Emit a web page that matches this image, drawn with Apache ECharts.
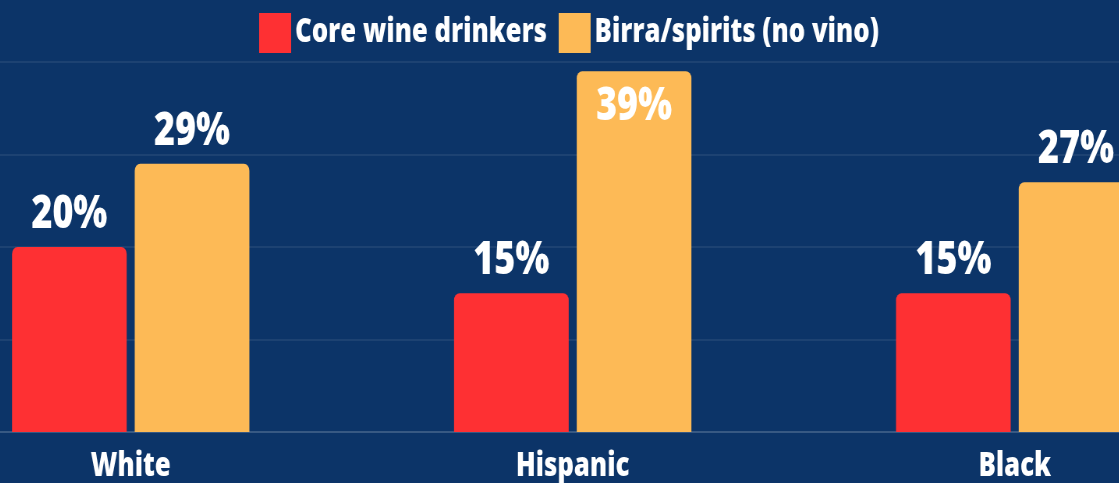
<!DOCTYPE html>
<html>
<head>
<meta charset="utf-8">
<script src="https://cdn.jsdelivr.net/npm/echarts@6/dist/echarts.min.js"></script>
<style>
  html, body { margin: 0; padding: 0; background: #0c3468; overflow: hidden; }
  body { position: relative; width: 1119px; height: 483px; }
  /* The chart is laid out wide and set in a narrow, condensed lettering */
  #chart {
    position: absolute; left: -102px; top: 0;
    width: 1715px; height: 483px;
    transform: scaleX(0.78); transform-origin: 0 0;
  }
</style>
</head>
<body>
<div id="chart"></div>
<script>
// Share of each group, in percent
const categories = ['White', 'Hispanic', 'Black'];
const seriesNames = ['Core wine drinkers', 'Birra/spirits (no vino)'];
const coreWine = [20, 15, 15];
const beerSpirits = [29, 39, 27];

const FONT = "'Open Sans', 'Noto Sans', sans-serif";
const colors = ['#fe3033', '#fdba56'];

// Values near the top of the scale carry their label inside the bar
function toItems(values) {
  return values.map(v => v > 35
    ? { value: v, label: { position: 'insideTop', distance: 13 } }
    : v);
}

const chart = echarts.init(document.getElementById('chart'));
chart.setOption({
  backgroundColor: '#0c3468',
  textStyle: { fontFamily: FONT },
  legend: {
    left: 458,
    top: 8,
    itemWidth: 41,
    itemHeight: 40,
    itemGap: 15,
    icon: 'rect',
    textStyle: { color: '#ffffff', fontSize: 33, fontWeight: 800, fontFamily: FONT }
  },
  grid: { left: 15, right: 0, top: 62, bottom: 51, containLabel: false },
  xAxis: {
    type: 'category',
    data: categories,
    axisTick: { show: false },
    axisLine: { lineStyle: { color: 'rgba(255,255,255,0.12)', width: 2 } },
    axisLabel: { color: '#ffffff', fontSize: 33, fontWeight: 800, fontFamily: FONT, margin: 18 }
  },
  yAxis: {
    type: 'value',
    min: 0, max: 40, interval: 10,
    axisLabel: { show: false },
    axisLine: { show: false },
    axisTick: { show: false },
    splitLine: { lineStyle: { color: 'rgba(255,255,255,0.07)', width: 2 } }
  },
  series: [
    { name: seriesNames[0], data: toItems(coreWine) },
    { name: seriesNames[1], data: toItems(beerSpirits) }
  ].map((s, i) => ({
    name: s.name,
    type: 'bar',
    data: s.data,
    barWidth: 147,
    barGap: '7%',
    itemStyle: { color: colors[i], borderRadius: [7, 7, 0, 0] },
    label: {
      show: true,
      position: 'top',
      distance: 9,
      color: '#ffffff',
      fontSize: 46,
      fontWeight: 800,
      fontFamily: FONT,
      formatter: p => p.value + '%'
    }
  }))
});
</script>
</body>
</html>
